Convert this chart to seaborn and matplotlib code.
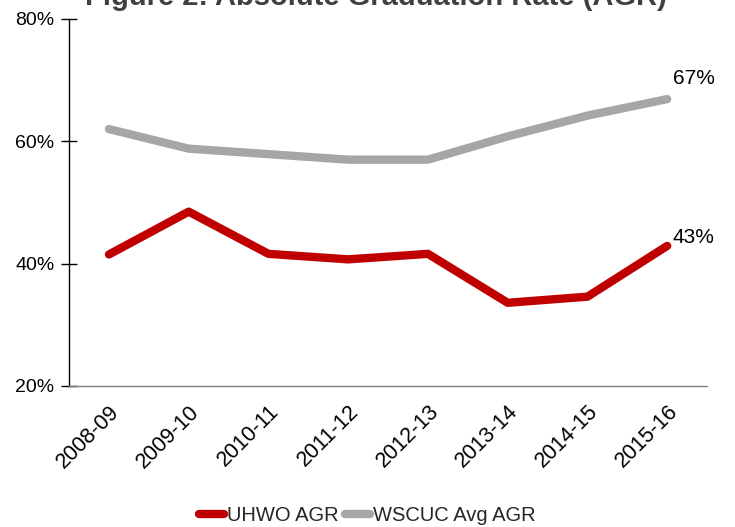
import matplotlib
matplotlib.use("Agg")
import matplotlib.pyplot as plt
from matplotlib.lines import Line2D
import seaborn as sns
import pandas as pd
from matplotlib.ticker import PercentFormatter

years = ["2008-09", "2009-10", "2010-11", "2011-12", "2012-13", "2013-14", "2014-15", "2015-16"]
uhwo_agr = [41.5, 48.5, 41.6, 40.7, 41.6, 33.6, 34.6, 42.9]
wscuc_agr = [62.0, 58.8, 57.9, 57.0, 57.0, 60.8, 64.2, 66.9]
series_names = ["UHWO AGR", "WSCUC Avg AGR"]
end_labels = ["43%", "67%"]
yticks = [20, 40, 60, 80]
title = "Figure 2: Absolute Graduation Rate (AGR)"

sns.set_theme(style="white")
plt.rcParams["font.family"] = ["Liberation Sans", "DejaVu Sans"]

df = pd.DataFrame({
    "Year": years * 2,
    "AGR": uhwo_agr + wscuc_agr,
    "Series": [series_names[0]] * len(years) + [series_names[1]] * len(years),
})

fig = plt.figure(figsize=(7.35, 5.27), dpi=100)
ax = fig.add_axes([0.094, 0.2676, 0.868, 0.6964])

colors = ["#C00000", "#A6A6A6"]
palette = dict(zip(series_names, colors))
sns.lineplot(data=df, x="Year", y="AGR", hue="Series", palette=palette,
             linewidth=6, ax=ax, sort=False, legend=False,
             solid_capstyle="round", solid_joinstyle="round")

ax.set_xlim(-0.5, len(years) - 0.5)
ax.set_ylim(20, 80)
ax.set_yticks(yticks)
ax.yaxis.set_major_formatter(PercentFormatter(decimals=0))
ax.set_xlabel("")
ax.set_ylabel("")

for s in ["top", "right"]:
    ax.spines[s].set_visible(False)
ax.spines["left"].set_color("#000000")
ax.spines["left"].set_linewidth(1.0)
ax.spines["bottom"].set_color("#808080")
ax.spines["bottom"].set_linewidth(1.0)

ax.tick_params(axis="y", direction="inout", length=11, width=1, color="#000000",
               labelsize=14, labelcolor="#000000", pad=5, left=True)
ax.tick_params(axis="x", length=0, labelsize=15.5, labelcolor="#000000", pad=11)
for lab in ax.get_xticklabels():
    lab.set_rotation(45)
    lab.set_ha("right")
    lab.set_rotation_mode("anchor")

ax.annotate(end_labels[0], (len(years) - 1, uhwo_agr[-1]), xytext=(4, -1),
            textcoords="offset points", fontsize=15, ha="left", va="bottom", color="#000000")
ax.annotate(end_labels[1], (len(years) - 1, wscuc_agr[-1]), xytext=(4, 8),
            textcoords="offset points", fontsize=15, ha="left", va="bottom", color="#000000")

handles = [Line2D([0], [0], color=c, lw=6, solid_capstyle="round") for c in colors]
fig.legend(handles, series_names, loc="lower center", bbox_to_anchor=(0.5, -0.03), ncol=2,
           frameon=False, fontsize=14.5, handlelength=1.25, handletextpad=0.15,
           columnspacing=0.3)

fig.text(0.5116, 0.9905, title, ha="center", va="baseline",
         fontsize=21, fontweight="bold", color="#404040")

fig.savefig("out.png", dpi=100, facecolor="white")
